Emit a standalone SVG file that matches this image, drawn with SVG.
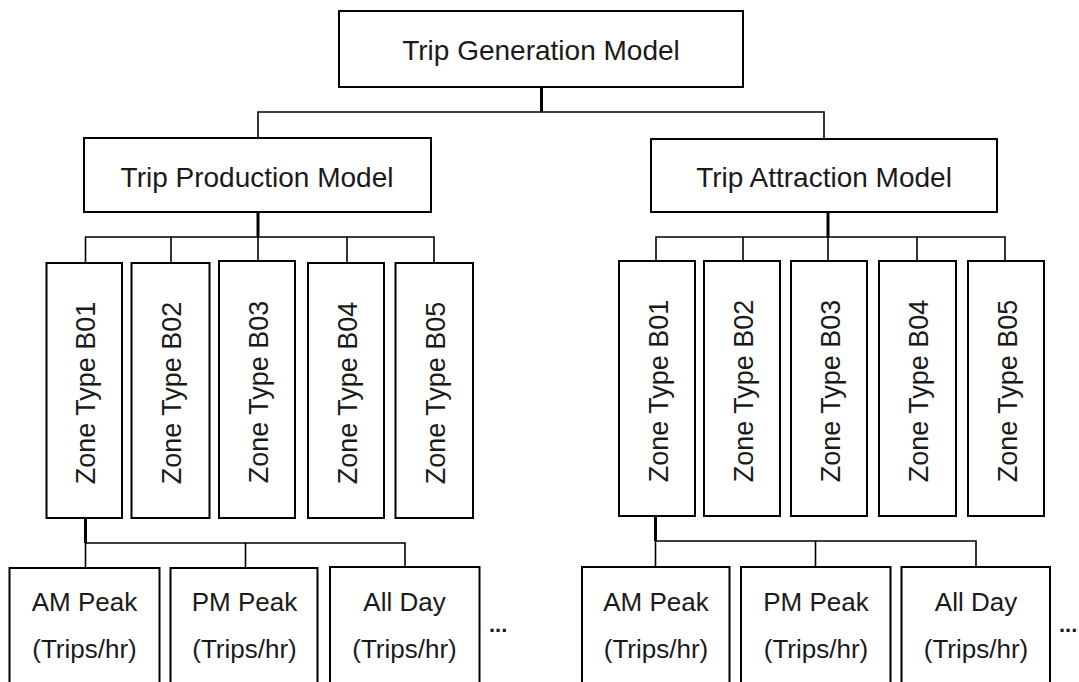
<svg xmlns="http://www.w3.org/2000/svg" width="1079" height="682" viewBox="0 0 1079 682">
<style>
.box{fill:#fff;stroke:#000;stroke-width:2}
.t{font-family:"Liberation Sans",Arial,sans-serif;fill:#1a1a1a;text-anchor:middle}
.h1{font-size:28px}
.z{font-size:27px}
.b{font-size:26px}
.dots{font-family:"Liberation Sans",Arial,sans-serif;fill:#1a1a1a;font-size:22px;font-weight:bold}
.thick{stroke:#000;stroke-width:3;fill:none}
.thin{stroke:#000;stroke-width:1.6;fill:none}
</style>
<rect width="1079" height="682" fill="#fff"/>
<g id="connectors">
<line class="thick" x1="541.5" y1="87" x2="541.5" y2="112"/>
<polyline class="thin" points="258,138 258,112 824,112 824,139"/>
<line class="thick" x1="258" y1="212" x2="258" y2="237"/>
<polyline class="thin" points="85.5,263 85.5,237 434,237 434,263"/>
<line class="thin" x1="171" y1="237" x2="171" y2="263"/>
<line class="thin" x1="258" y1="237" x2="258" y2="261"/>
<line class="thin" x1="347" y1="237" x2="347" y2="263"/>
<line class="thick" x1="828" y1="212" x2="828" y2="237"/>
<polyline class="thin" points="656,261 656,237 1005,237 1005,261"/>
<line class="thin" x1="743" y1="237" x2="743" y2="261"/>
<line class="thin" x1="828" y1="237" x2="828" y2="261"/>
<line class="thin" x1="917" y1="237" x2="917" y2="261"/>
<line class="thick" x1="85.5" y1="518" x2="85.5" y2="543"/>
<polyline class="thin" points="85.5,568 85.5,543 405,543 405,567"/>
<line class="thin" x1="245.5" y1="543" x2="245.5" y2="568"/>
<line class="thick" x1="655.5" y1="516" x2="655.5" y2="541"/>
<polyline class="thin" points="655.5,567 655.5,541 976,541 976,567"/>
<line class="thin" x1="815.5" y1="541" x2="815.5" y2="567"/>
</g>
<g id="n-generation"><rect class="box" x="339" y="11" width="404" height="76"/><text class="t h1" x="541" y="60">Trip Generation Model</text></g>
<g id="n-production"><rect class="box" x="84" y="138" width="347" height="74"/><text class="t h1" x="257" y="187">Trip Production Model</text></g>
<g id="n-attraction"><rect class="box" x="651" y="139" width="346" height="73"/><text class="t h1" x="824" y="187">Trip Attraction Model</text></g>
<g id="p-b01"><rect class="box" x="46.5" y="263" width="75.5" height="255"/><text class="t z" transform="translate(95,393) rotate(-90)">Zone Type B01</text></g>
<g id="p-b02"><rect class="box" x="131.5" y="263" width="78" height="255"/><text class="t z" transform="translate(181,393) rotate(-90)">Zone Type B02</text></g>
<g id="p-b03"><rect class="box" x="219" y="261" width="76" height="257"/><text class="t z" transform="translate(268,392) rotate(-90)">Zone Type B03</text></g>
<g id="p-b04"><rect class="box" x="308" y="263" width="76" height="255"/><text class="t z" transform="translate(357,393) rotate(-90)">Zone Type B04</text></g>
<g id="p-b05"><rect class="box" x="395.5" y="263" width="77.5" height="255"/><text class="t z" transform="translate(445,393) rotate(-90)">Zone Type B05</text></g>
<g id="a-b01"><rect class="box" x="619" y="261" width="76" height="255"/><text class="t z" transform="translate(667.5,391) rotate(-90)">Zone Type B01</text></g>
<g id="a-b02"><rect class="box" x="704" y="261" width="76" height="255"/><text class="t z" transform="translate(752.5,391) rotate(-90)">Zone Type B02</text></g>
<g id="a-b03"><rect class="box" x="791" y="261" width="76" height="255"/><text class="t z" transform="translate(839.5,391) rotate(-90)">Zone Type B03</text></g>
<g id="a-b04"><rect class="box" x="879" y="261" width="77" height="255"/><text class="t z" transform="translate(928,391) rotate(-90)">Zone Type B04</text></g>
<g id="a-b05"><rect class="box" x="968" y="261" width="76" height="255"/><text class="t z" transform="translate(1016.5,391) rotate(-90)">Zone Type B05</text></g>
<g id="p-am"><rect class="box" x="9.5" y="568" width="150" height="130"/><text class="t b" x="84.5" y="611">AM Peak</text><text class="t b" x="84.5" y="658">(Trips/hr)</text></g>
<g id="p-pm"><rect class="box" x="170.5" y="568" width="147" height="130"/><text class="t b" x="244.5" y="611">PM Peak</text><text class="t b" x="244.5" y="658">(Trips/hr)</text></g>
<g id="p-all"><rect class="box" x="330" y="567" width="149.5" height="130"/><text class="t b" x="404.5" y="611">All Day</text><text class="t b" x="404.5" y="658">(Trips/hr)</text></g>
<g id="p-more"><text class="dots" x="489" y="632">...</text></g>
<g id="a-am"><rect class="box" x="582" y="567" width="147.5" height="130"/><text class="t b" x="656" y="611">AM Peak</text><text class="t b" x="656" y="658">(Trips/hr)</text></g>
<g id="a-pm"><rect class="box" x="741" y="567" width="149.5" height="130"/><text class="t b" x="816" y="611">PM Peak</text><text class="t b" x="816" y="658">(Trips/hr)</text></g>
<g id="a-all"><rect class="box" x="901.5" y="567" width="148.5" height="130"/><text class="t b" x="976" y="611">All Day</text><text class="t b" x="976" y="658">(Trips/hr)</text></g>
<g id="a-more"><text class="dots" x="1059" y="632">...</text></g>
</svg>
